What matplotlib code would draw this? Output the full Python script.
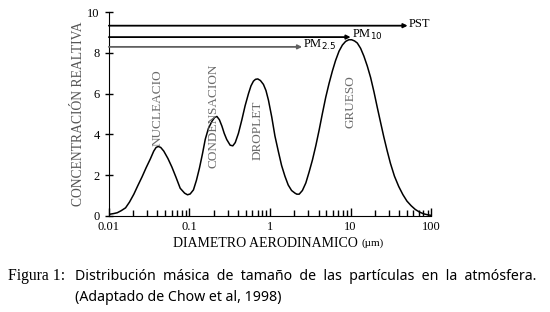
import matplotlib.pyplot as plt
import numpy as np

# puntos (diametro en um, concentracion relativa)
diam = [0.01, 0.0115, 0.0127, 0.0142, 0.0161, 0.018, 0.0204, 0.0228, 0.0258, 0.029,
        0.0327, 0.036, 0.0385, 0.041, 0.044, 0.048, 0.054, 0.0605, 0.068, 0.0767,
        0.087, 0.0945, 0.102, 0.112, 0.122, 0.133, 0.145, 0.157, 0.172, 0.19,
        0.205, 0.219, 0.235, 0.253, 0.27, 0.29, 0.32, 0.345, 0.37, 0.405, 0.447,
        0.49, 0.54, 0.58, 0.622, 0.66, 0.704, 0.76, 0.828, 0.89, 0.955, 1.05,
        1.15, 1.27, 1.39, 1.53, 1.68, 1.85, 2.04, 2.15, 2.3, 2.52, 2.78, 3.05,
        3.36, 3.7, 4.06, 4.45, 4.91, 5.4, 5.94, 6.5, 7.18, 7.9, 8.67, 9.5, 10.3,
        11.2, 12.1, 13.3, 14.6, 16.1, 17.7, 19.5, 21.4, 23.5, 25.8, 28.4, 31.2,
        35.0, 39.5, 44.5, 50.0, 56.5, 63.5, 71.0, 80.0, 90.0, 100.0]
conc = [0.08, 0.12, 0.16, 0.26, 0.4, 0.68, 1.07, 1.48, 1.92, 2.37,
        2.8, 3.18, 3.36, 3.41, 3.36, 3.18, 2.82, 2.4, 1.9, 1.36,
        1.12, 1.04, 1.08, 1.28, 1.75, 2.35, 3.05, 3.76, 4.3, 4.64,
        4.83, 4.88, 4.72, 4.4, 4.05, 3.75, 3.47, 3.44, 3.6, 4.05, 4.72,
        5.4, 6.0, 6.38, 6.61, 6.7, 6.72, 6.64, 6.45, 6.15, 5.68, 4.85,
        3.92, 3.15, 2.48, 1.95, 1.52, 1.25, 1.12, 1.07, 1.07, 1.25, 1.62, 2.15,
        2.75, 3.45, 4.2, 5.0, 5.82, 6.5, 7.11, 7.62, 8.08, 8.38, 8.56, 8.64, 8.64,
        8.58, 8.48, 8.22, 7.84, 7.35, 6.79, 6.08, 5.33, 4.6, 3.88, 3.2, 2.58,
        1.95, 1.45, 1.05, 0.73, 0.5, 0.32, 0.2, 0.11, 0.06, 0.03]

# rangos de tamano (hasta donde llega cada flecha)
rangos = ['PST', 'PM$_{10}$', 'PM$_{2.5}$']
rango_hasta = [51, 10, 2.5]
rango_y = [9.33, 8.77, 8.29]
rango_color = ['black', 'black', '#606060']

modos = ['NUCLEACIO', 'CONDENSACION', 'DROPLET', 'GRUESO']
modo_x = [0.04, 0.2, 0.70, 10]
modo_y = [3.45, 2.35, 2.75, 4.3]

serif = 'Liberation Serif'

fig = plt.figure(figsize=(5.5, 3.12), dpi=100)
ax = fig.add_axes([0.198, 0.3077, 0.586, 0.6538])

ax.semilogx(diam, conc, color='black', lw=1.1)

for nombre, hasta, yy, c in zip(rangos, rango_hasta, rango_y, rango_color):
    ax.annotate('', xy=(hasta, yy), xytext=(0.01, yy),
                arrowprops=dict(arrowstyle='-|>', color=c, lw=1.3,
                                mutation_scale=6, shrinkA=0, shrinkB=0))
    ax.text(hasta * 1.04, yy + 0.1, nombre, fontsize=9, family=serif,
            ha='left', va='center')

for nombre, mx, my in zip(modos, modo_x, modo_y):
    ax.text(mx, my, nombre, rotation=90, ha='center', va='bottom',
            fontsize=9.5, family=serif, color='#6a6a6a')

ax.set_xlim(0.01, 100)
ax.set_ylim(0, 10)
ax.set_yticks([0, 2, 4, 6, 8, 10])
ax.set_xticks([0.01, 0.1, 1, 10, 100])
ax.set_xticklabels(['0.01', '0.1', '1', '10', '100'])
for s in ['top', 'right']:
    ax.spines[s].set_visible(False)
ax.tick_params(axis='x', which='major', direction='in', length=6, width=1)
ax.tick_params(axis='x', which='minor', direction='in', length=4, width=1)
ax.tick_params(axis='y', direction='inout', length=6, width=1)
for lab in ax.get_xticklabels() + ax.get_yticklabels():
    lab.set_family(serif)
    lab.set_fontsize(9)

ax.set_ylabel('CONCENTRACIÓN REALTIVA', family=serif, fontsize=9.8,
              color='#555555', labelpad=2)
fig.text(0.651, 0.22, 'DIAMETRO AERODINAMICO', family=serif, fontsize=10,
         ha='right', va='center')
fig.text(0.657, 0.22, '(µm)', family=serif, fontsize=8, ha='left', va='center')

fig.text(0.015, 0.115, 'Figura 1:', family=serif, fontsize=11.3, va='center')
fig.text(0.137, 0.115, 'Distribución  másica  de  tamaño  de  las  partículas  en  la  atmósfera.',
         family='Noto Sans', fontsize=10.2, va='center')
fig.text(0.137, 0.045, '(Adaptado de Chow et al, 1998)',
         family='Noto Sans', fontsize=10.2, va='center')

fig.savefig('out.png', dpi=100)
